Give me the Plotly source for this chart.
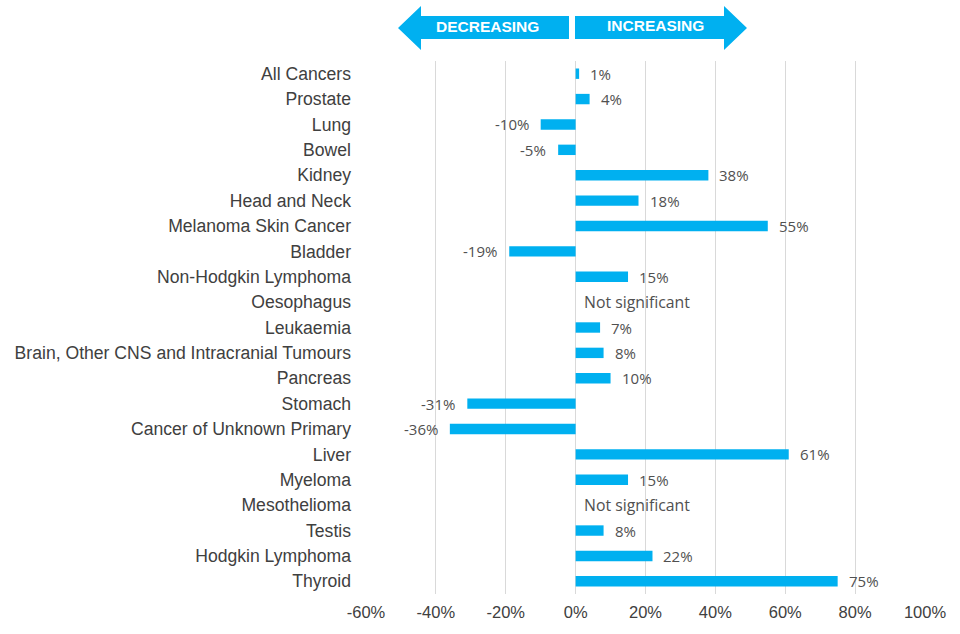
import plotly.graph_objects as go

categories = [
    "All Cancers", "Prostate", "Lung", "Bowel", "Kidney", "Head and Neck",
    "Melanoma Skin Cancer", "Bladder", "Non-Hodgkin Lymphoma", "Oesophagus",
    "Leukaemia", "Brain, Other CNS and Intracranial Tumours", "Pancreas",
    "Stomach", "Cancer of Unknown Primary", "Liver", "Myeloma",
    "Mesothelioma", "Testis", "Hodgkin Lymphoma", "Thyroid",
]
# percent change; None = not significant
values = [1, 4, -10, -5, 38, 18, 55, -19, 15, None, 7, 8, 10, -31, -36, 61, 15, None, 8, 22, 75]
not_sig_text = "Not significant"
tick_vals = [-60, -40, -20, 0, 20, 40, 60, 80, 100]
tick_text = ["-60%", "-40%", "-20%", "0%", "20%", "40%", "60%", "80%", "100%"]

CYAN = "#00B0F0"
W, H = 960, 634
ML, MR, MT, MB = 366, 35, 61, 40
LABEL_FONT = dict(family="Open Sans", size=15, color="#505050")

fig = go.Figure()
fig.add_trace(go.Bar(
    y=categories,
    x=[v if v is not None else 0 for v in values],
    orientation="h",
    marker=dict(color=CYAN, line=dict(width=0)),
    width=0.41,
    hoverinfo="x+y",
))

annotations = []
for cat, v in zip(categories, values):
    if v is None:
        annotations.append(dict(x=0, y=cat, xref="x", yref="y", text=not_sig_text,
                                showarrow=False, xanchor="left", yanchor="middle", xshift=6,
                                font=dict(LABEL_FONT, size=15.8)))
    elif v >= 0:
        annotations.append(dict(x=v, y=cat, xref="x", yref="y", text=f"{v}%",
                                showarrow=False, xanchor="left", yanchor="middle", xshift=9,
                                font=LABEL_FONT))
    else:
        annotations.append(dict(x=v, y=cat, xref="x", yref="y", text=f"{v}%",
                                showarrow=False, xanchor="right", yanchor="middle", xshift=-10,
                                font=LABEL_FONT))

# Direction arrows above the plot (pixel -> paper helper)
pw, ph = W - ML - MR, H - MT - MB
def px(x):
    return (x - ML) / pw
def py(y):
    return (H - MB - y) / ph

def path(points):
    return "M " + " L ".join(f"{px(x):.5f},{py(y):.5f}" for x, y in points) + " Z"

left_arrow = [(398, 28), (421, 6), (421, 16), (569, 16), (569, 39), (421, 39), (421, 50)]
right_arrow = [(575, 16), (724, 16), (724, 6), (747, 28), (724, 50), (724, 39), (575, 39)]
shapes = [
    dict(type="path", xref="paper", yref="paper", path=path(left_arrow),
         fillcolor=CYAN, line=dict(width=0), layer="below"),
    dict(type="path", xref="paper", yref="paper", path=path(right_arrow),
         fillcolor=CYAN, line=dict(width=0), layer="below"),
]
annotations.append(dict(x=px(487), y=py(27), xref="paper", yref="paper", text="<b>DECREASING</b>",
                        showarrow=False, xanchor="center", yanchor="middle",
                        font=dict(family="Liberation Sans", size=15.5, color="white")))
annotations.append(dict(x=px(655), y=py(26), xref="paper", yref="paper", text="<b>INCREASING</b>",
                        showarrow=False, xanchor="center", yanchor="middle",
                        font=dict(family="Liberation Sans", size=15.5, color="white")))

fig.update_layout(
    width=W, height=H,
    margin=dict(l=ML, r=MR, t=MT, b=MB, pad=0, autoexpand=False),
    paper_bgcolor="white", plot_bgcolor="white",
    showlegend=False,
    shapes=shapes,
    annotations=annotations,
    font=dict(family="Liberation Sans", size=17, color="#404040"),
    xaxis=dict(range=[-60, 100], tickvals=tick_vals, ticktext=tick_text,
               showgrid=True, gridcolor="#D9D9D9", gridwidth=1,
               zeroline=False, showline=False, ticks="", ticklabelstandoff=6,
               tickfont=dict(family="Liberation Sans", size=16.5, color="#404040"),
               fixedrange=True),
    yaxis=dict(autorange="reversed", showgrid=False, zeroline=False, showline=False,
               ticks="", ticklabelstandoff=14,
               tickfont=dict(family="Liberation Sans", size=17.6, color="#404040"),
               fixedrange=True),
    bargap=0.59,
)

fig.write_html("out.html", config={"displayModeBar": False},
               post_script="document.body.style.margin='0';")
